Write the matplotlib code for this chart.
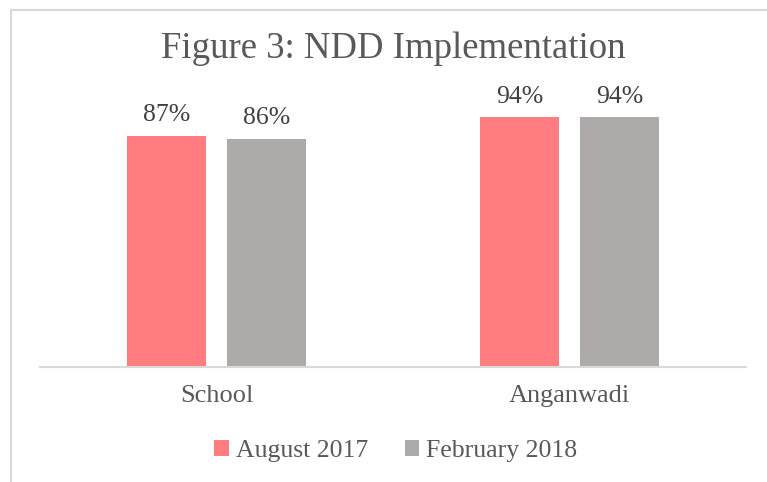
import numpy as np
import matplotlib.pyplot as plt
from matplotlib.patches import Rectangle

categories = ['School', 'Anganwadi']
series_names = ['August 2017', 'February 2018']
aug_2017 = [87, 94]
feb_2018 = [86, 94]
colors = ['#FF7C80', '#AEAAAA']

plt.rcParams['font.family'] = ['Liberation Serif', 'DejaVu Serif']

W, H = 767, 482
fig = plt.figure(figsize=(W / 100, H / 100), dpi=100)

# outer chart frame (cropped at right and bottom)
fig.patches.append(Rectangle((11 / W, -0.1), 2, (H - 10) / H + 0.1,
                             transform=fig.transFigure, fill=False,
                             edgecolor='#D9D9D9', linewidth=1.5))

ax = fig.add_axes([40 / W, (H - 367) / H, 706 / W, 265.5 / H])
x = np.arange(len(categories))
off = 50 / 353
bw = 79 / 353
for vals, name, c, o in [(aug_2017, series_names[0], colors[0], -off),
                         (feb_2018, series_names[1], colors[1], off)]:
    bars = ax.bar(x + o, vals, width=bw, color=c, label=name)
    for b, v in zip(bars, vals):
        ax.annotate(f'{v}%', (b.get_x() + b.get_width() / 2, v),
                    xytext=(0, 7), textcoords='offset points',
                    ha='center', va='bottom', fontsize=18.5, color='#404040')

ax.set_xlim(-0.5, 1.5)
ax.set_ylim(0, 100)
ax.set_yticks([])
ax.set_xticks(x)
ax.set_xticklabels(categories, fontsize=19, color='#595959')
ax.tick_params(axis='x', length=0, pad=13)
for s in ['top', 'right', 'left']:
    ax.spines[s].set_visible(False)
ax.spines['bottom'].set_color('#D9D9D9')
ax.spines['bottom'].set_linewidth(1.5)

fig.text(393 / W, 1 - 49 / H, 'Figure 3: NDD Implementation',
         ha='center', va='center', fontsize=26.5, color='#595959')

fig.legend(loc='center', bbox_to_anchor=(396 / W, 1 - 451 / H), ncol=2,
           frameon=False, fontsize=18.5, labelcolor='#595959',
           handlelength=0.55, handleheight=0.55, handletextpad=0.3,
           columnspacing=1.4)

fig.savefig('out.png', dpi=100)
